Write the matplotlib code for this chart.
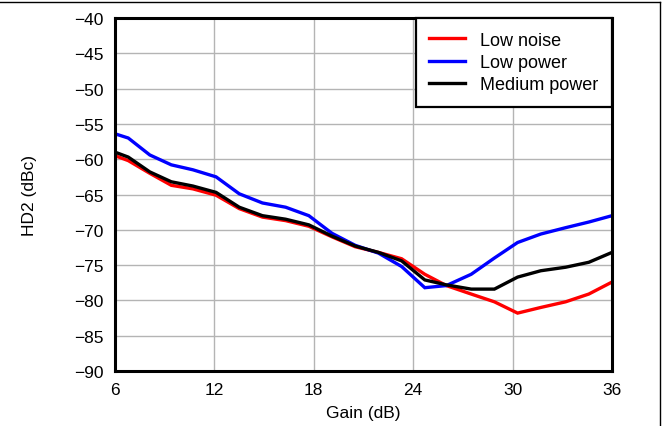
"""HD2 vs gain for the three power modes."""

import matplotlib
matplotlib.use("Agg")
import matplotlib.pyplot as plt
from matplotlib.lines import Line2D

plt.rcParams["font.family"] = ["Liberation Sans", "DejaVu Sans"]

# ---------------------------------------------------------------------------
# DATA
# ---------------------------------------------------------------------------
GAIN = [6, 6.8, 8.1, 9.4, 10.7, 12.1, 13.5, 14.9, 16.3, 17.7, 19.1, 20.5,
        21.9, 23.3, 24.7, 26.0, 27.5, 28.9, 30.3, 31.7, 33.2, 34.6, 36]

LOW_NOISE = [-59.5, -60.2, -62.0, -63.7, -64.2, -65.1, -67.0, -68.2, -68.7,
             -69.5, -71.0, -72.4, -73.2, -74.1, -76.3, -77.9, -79.1, -80.2,
             -81.8, -81.0, -80.2, -79.1, -77.4]

LOW_POWER = [-56.4, -57.0, -59.4, -60.8, -61.5, -62.5, -64.9, -66.2, -66.8,
             -68.0, -70.5, -72.2, -73.3, -75.2, -78.2, -77.9, -76.3, -74.0,
             -71.8, -70.6, -69.7, -68.9, -68.0]

MEDIUM_POWER = [-59.0, -59.7, -61.8, -63.2, -63.8, -64.7, -66.8, -68.0, -68.5,
                -69.3, -70.9, -72.3, -73.2, -74.4, -77.1, -77.8, -78.4, -78.4,
                -76.7, -75.8, -75.3, -74.6, -73.2]

SERIES = [("Low noise", LOW_NOISE, "#ff0000"),
          ("Low power", LOW_POWER, "#0000ff"),
          ("Medium power", MEDIUM_POWER, "#000000")]

X_TICKS = [6, 12, 18, 24, 30, 36]
Y_TICKS = list(range(-90, -35, 5))

FS = 12.5


def main() -> None:
    fig = plt.figure(figsize=(6.64, 4.27), dpi=100)
    ax = fig.add_axes([0.1732, 0.1288, 0.7485, 0.8267])

    for label, values, color in SERIES:
        ax.plot(GAIN, values, color=color, linewidth=2.4, label=label,
                solid_joinstyle="miter")

    ax.set_xlim(6, 36)
    ax.set_ylim(-90, -40)
    ax.set_xticks(X_TICKS)
    ax.set_yticks(Y_TICKS)
    ax.set_yticklabels([f"\u2212{abs(v)}" for v in Y_TICKS])
    ax.tick_params(length=0, labelsize=FS, pad=8)
    ax.grid(True, color="#b4b4b4", linewidth=1.0)
    for sp in ax.spines.values():
        sp.set_linewidth(2.2)

    ax.set_xlabel("Gain (dB)", fontsize=FS, labelpad=6)
    ax.set_ylabel("HD2 (dBc)", fontsize=FS, labelpad=27)

    leg = ax.legend(loc="upper right", borderaxespad=0, fontsize=13,
                    handlelength=2.0, handletextpad=0.83, labelspacing=0.3,
                    borderpad=0.75, fancybox=False, framealpha=1)
    leg.get_frame().set_edgecolor("black")
    leg.get_frame().set_linewidth(1.6)

    # page frame (top and right edge)
    fig.add_artist(Line2D([0, 660 / 664], [1 - 3 / 427, 1 - 3 / 427],
                          transform=fig.transFigure, color="black", linewidth=1))
    fig.add_artist(Line2D([660 / 664, 660 / 664], [0, 1 - 3 / 427],
                          transform=fig.transFigure, color="black", linewidth=1))

    fig.savefig("out.png", dpi=100)


if __name__ == "__main__":
    main()
